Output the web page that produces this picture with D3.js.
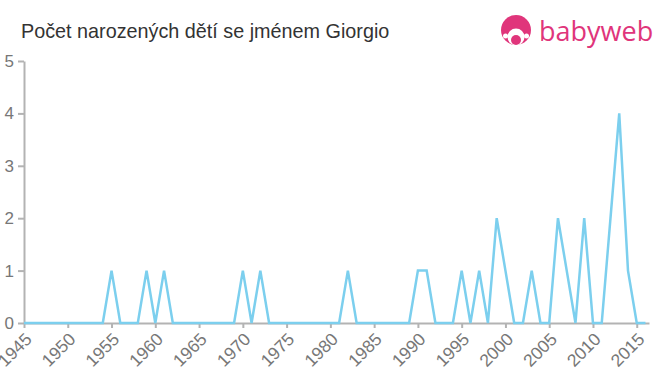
<!DOCTYPE html>
<html>
<head>
<meta charset="utf-8">
<script src="https://cdn.jsdelivr.net/npm/d3@7"></script>
<style>
  body { margin: 0; background: #fff; }
  svg { font-family: "Liberation Sans", Arial, sans-serif; }
</style>
</head>
<body>
<svg></svg>
<script>
let width = 660
let height = 375

// years 1945..2016
let years = d3.range(1945, 2017)
let counts = [
  0, 0, 0, 0, 0, 0, 0, 0, 0, 0,   // 1945-1954
  1, 0, 0, 0, 1, 0, 1, 0, 0, 0,   // 1955-1964
  0, 0, 0, 0, 0, 1, 0, 1, 0, 0,   // 1965-1974
  0, 0, 0, 0, 0, 0, 0, 1, 0, 0,   // 1975-1984
  0, 0, 0, 0, 0, 1, 1, 0, 0, 0,   // 1985-1994
  1, 0, 1, 0, 2, 1, 0, 0, 1, 0,   // 1995-2004
  0, 2, 1, 0, 2, 0, 0, 2, 4, 1,   // 2005-2014
  0, 0                            // 2015-2016
]
let xTicks = d3.range(1945, 2016, 5)
let yTicks = [0, 1, 2, 3, 4, 5]

let svg = d3.select("svg").attr("width", width).attr("height", height)

let xScale = d3.scaleLinear().domain([1945, 2016.4]).range([24, 649])
let yScale = d3.scaleLinear().domain([0, 5]).range([323, 61])

// title
svg.append("text")
  .attr("x", 21)
  .attr("y", 38)
  .attr("font-size", 19.8)
  .attr("fill", "#333")
  .text("Počet narozených dětí se jménem Giorgio")

// logo
let logo = svg.append("g").attr("transform", "translate(516, 32)")
logo.append("circle").attr("cx", 0).attr("cy", -2).attr("r", 15).attr("fill", "#e0357b")
logo.append("circle").attr("cx", 0).attr("cy", 5).attr("r", 8.5).attr("fill", "#fff")
logo.append("circle").attr("cx", 0).attr("cy", 8).attr("r", 5).attr("fill", "#e0357b")
logo.append("circle").attr("cx", -10.5).attr("cy", 4).attr("r", 2.5).attr("fill", "#fff")
logo.append("circle").attr("cx", 10.5).attr("cy", 4).attr("r", 2.5).attr("fill", "#fff")
logo.append("text")
  .attr("x", 23)
  .attr("y", 9)
  .attr("font-family", "'Open Sans', 'DejaVu Sans', sans-serif")
  .attr("font-size", 27)
  .attr("fill", "#e0357b")
  .text("babyweb")

// axes
let xAxis = d3.axisBottom(xScale).tickValues(xTicks).tickFormat(d3.format("d")).tickSize(5).tickSizeOuter(0)
let yAxis = d3.axisLeft(yScale).tickValues(yTicks).tickFormat(d3.format("d")).tickSize(6).tickSizeOuter(0)

let gx = svg.append("g")
  .attr("transform", "translate(0," + 323 + ")")
  .call(xAxis)
gx.select(".domain").attr("stroke", "#b3b3b3").attr("stroke-width", 2)
gx.selectAll(".tick line").attr("stroke", "#b3b3b3").attr("stroke-width", 2)
gx.selectAll(".tick text")
  .attr("font-size", 17.5)
  .attr("font-family", "'Liberation Sans', Arial, sans-serif")
  .attr("fill", "#777")
  .attr("text-anchor", "end")
  .attr("x", 0)
  .attr("y", 0)
  .attr("dy", "0.35em")
  .attr("transform", "translate(4,13) rotate(-45)")

let gy = svg.append("g")
  .attr("transform", "translate(" + 24 + ",0)")
  .call(yAxis)
gy.select(".domain").attr("stroke", "#b3b3b3").attr("stroke-width", 2)
gy.selectAll(".tick line").attr("stroke", "#b3b3b3").attr("stroke-width", 2)
gy.selectAll(".tick text")
  .attr("font-size", 17)
  .attr("font-family", "'Liberation Sans', Arial, sans-serif")
  .attr("fill", "#777")
  .attr("x", -10)

// line
let line = d3.line()
  .x((d, i) => xScale(years[i]))
  .y((d) => yScale(d))

svg.append("path")
  .datum(counts)
  .attr("fill", "none")
  .attr("stroke", "#7ccfee")
  .attr("stroke-width", 2.5)
  .attr("d", line)
</script>
</body>
</html>
